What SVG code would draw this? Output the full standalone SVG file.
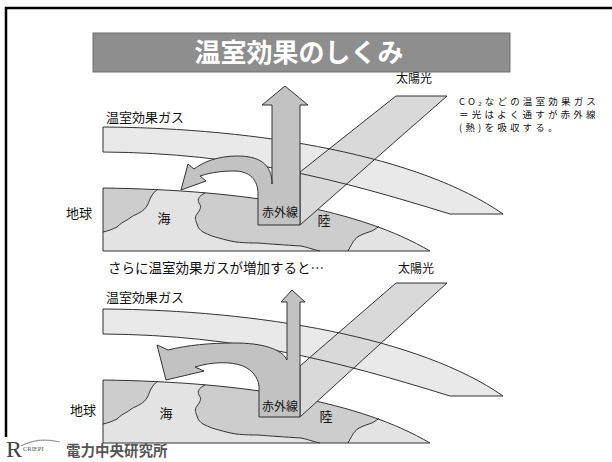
<svg xmlns="http://www.w3.org/2000/svg" width="612" height="462" viewBox="0 0 612 462">
  <style>
    .jp { font-family: "Noto Sans CJK JP", "Noto Sans", sans-serif; fill: #111; }
    .lbl { font-size: 13px; }
    .ln { fill: none; stroke: #333; stroke-width: 1; }
    .sea { fill: #e3e3e3; }
    .land { fill: #cdcdcd; }
    .gas { fill: #e9e9e9; }
    .sun { fill: #d9d9d9; }
    .ir { fill: #c2c2c2; stroke: #333; stroke-width: 1; stroke-linejoin: miter; }
  </style>
  <defs>
    <path id="earthShape" d="M103,188 C250,190 360,210 430,251 L103,251 Z"/>
    <clipPath id="earthClip"><use href="#earthShape"/></clipPath>
    <!-- atmosphere band (greenhouse gas layer) -->
    <path id="gasBand" d="M103,127 C260,128 420,156 503,214 L450,214 C340,180 240,153 103,152 Z"/>
    <!-- earth surface with sea / land -->
    <g id="earthBody">
      <use href="#earthShape" class="sea"/>
      <g clip-path="url(#earthClip)">
        <path class="land" d="M98,180 L160,180 L158,189 C152,193 150,199 148,204 C145,210 141,212 137,214 C132,216 130,218 127,220 C123,222 120,224 117,227 C113,229 108,231 103,232 L98,232 Z"/>
        <path class="land" d="M205,180 L205,193 C199,196 197,199 199,203 C202,207 200,210 197,214 C194,218 196,221 197,224 C198,228 200,230 203,232 C209,235 214,237 219,238 C226,240 230,241 236,242 C246,243 252,243 258,243 C270,244 285,245 301,246 C306,247 309,248 312,249 C315,250 318,251 320,253 L348,253 C349,249 350,247 351.5,244.5 C354,240 356,238 359,236 C363,234 366,233 369,232 C373,231 375,229 380,225 L430,200 L430,180 Z"/>
      </g>
      <path class="ln" d="M158,189 C152,193 150,199 148,204 C145,210 141,212 137,214 C132,216 130,218 127,220 C123,222 120,224 117,227 C113,229 108,231 103,232"/>
      <path class="ln" d="M205,193 C199,196 197,199 199,203 C202,207 200,210 197,214 C194,218 196,221 197,224 C198,228 200,230 203,232 C209,235 214,237 219,238 C226,240 230,241 236,242 C246,243 252,243 258,243 C270,244 285,245 301,246 C306,247 309,248 312,249 C315,250 318,250.5 320,251"/>
      <path class="ln" d="M348,251 C349,249 350,247 351.5,244.5 C354,240 356,238 359,236 C363,234 366,233 369,232 C373,231 375,229 379,226.5"/>
      <use href="#earthShape" class="ln"/>
    </g>
  </defs>

  <rect width="612" height="462" fill="#ffffff"/>

  <!-- slide frame -->
  <g id="frame">
    <path d="M6,437 L6,8 L612,8" fill="none" stroke="#000" stroke-width="2.5"/>
  </g>

  <!-- title bar -->
  <g id="title">
    <rect x="93" y="33" width="417" height="39" fill="#8e8e8e" stroke="#6e6e6e" stroke-width="1"/>
    <text x="299" y="62" text-anchor="middle" font-family="'Noto Sans CJK JP', sans-serif" font-size="26" font-weight="bold" fill="#ffffff">温室効果のしくみ</text>
  </g>

  <!-- explanatory note -->
  <g id="note" class="jp" font-size="9.5" letter-spacing="3.2">
    <text x="459" y="105">CO₂などの温室効果ガス</text>
    <text x="459" y="118">＝光はよく通すが赤外線</text>
    <text x="459" y="131">(熱)を吸収する。</text>
  </g>

  <!-- upper scene: present state -->
  <g id="scene-now">
    <use href="#earthBody"/>
    <use href="#gasBand" class="gas"/>
    <path id="sun-now" class="sun" d="M396,96 L447,96 L300,225 L300,172 Z"/>
    <use href="#gasBand" class="ln"/>
    <path class="ln" d="M396,96 L447,96 L300,225 L300,172 Z"/>
    <path id="ir-now" class="ir" d="M258,225 L300,225 L300,105 L308,105 L285,86 L262,105 L272,105 L272,184 C272,163 258,156 237,156 C218,156 203,162 194,169 L188,164 L181,190 L206,181 L200,176 C212,172 224,171 234,171 C250,171 258,180 258,194 Z"/>
    <g class="jp lbl">
      <text x="396" y="83" font-size="12">太陽光</text>
      <text x="106" y="122">温室効果ガス</text>
      <text x="66" y="218">地球</text>
      <text x="164" y="223" text-anchor="middle">海</text>
      <text x="280" y="217" text-anchor="middle" font-size="12">赤外線</text>
      <text x="324" y="225" text-anchor="middle">陸</text>
    </g>
  </g>

  <!-- lower scene: more greenhouse gas -->
  <g id="scene-more">
    <g transform="translate(0,192)"><use href="#earthBody"/></g>
    <g transform="translate(0,182)"><use href="#gasBand" class="gas"/></g>
    <path id="sun-more" class="sun" d="M396,283 L447,283 L300,417 L300,366 Z"/>
    <g transform="translate(0,182)"><use href="#gasBand" class="ln"/></g>
    <path class="ln" d="M396,283 L447,283 L300,417 L300,366 Z"/>
    <path id="ir-more" class="ir" d="M259,417 L300,417 L300,302 L305,302 L292,290 L281,302 L287,302 L287,360 C282,349 262,343 235,343 C210,343 188,345 168,350 L157,345 L166,380 L204,371 L195,367 C211,362 230,361 243,366 C252,370 258,377 259,386 Z"/>
    <g class="jp lbl">
      <text x="108" y="273" font-size="13.5">さらに温室効果ガスが増加すると…</text>
      <text x="398" y="273" font-size="12">太陽光</text>
      <text x="106" y="302">温室効果ガス</text>
      <text x="70" y="415">地球</text>
      <text x="166" y="418" text-anchor="middle">海</text>
      <text x="280" y="411" text-anchor="middle" font-size="12">赤外線</text>
      <text x="326" y="421" text-anchor="middle">陸</text>
    </g>
  </g>

  <!-- institute logo -->
  <g id="logo">
    <text x="6" y="457" font-family="'Liberation Serif', serif" font-size="24" fill="#444">R</text>
    <path d="M21,446 Q38,437 60,442" fill="none" stroke="#9a9a9a" stroke-width="1.2"/>
    <text x="23" y="451" font-family="'Liberation Serif', serif" font-size="6.5" fill="#555">CRIEPI</text>
    <text x="66" y="456" font-family="'Noto Sans CJK JP', sans-serif" font-size="14.5" font-weight="bold" fill="#555">電力中央研究所</text>
  </g>
</svg>
